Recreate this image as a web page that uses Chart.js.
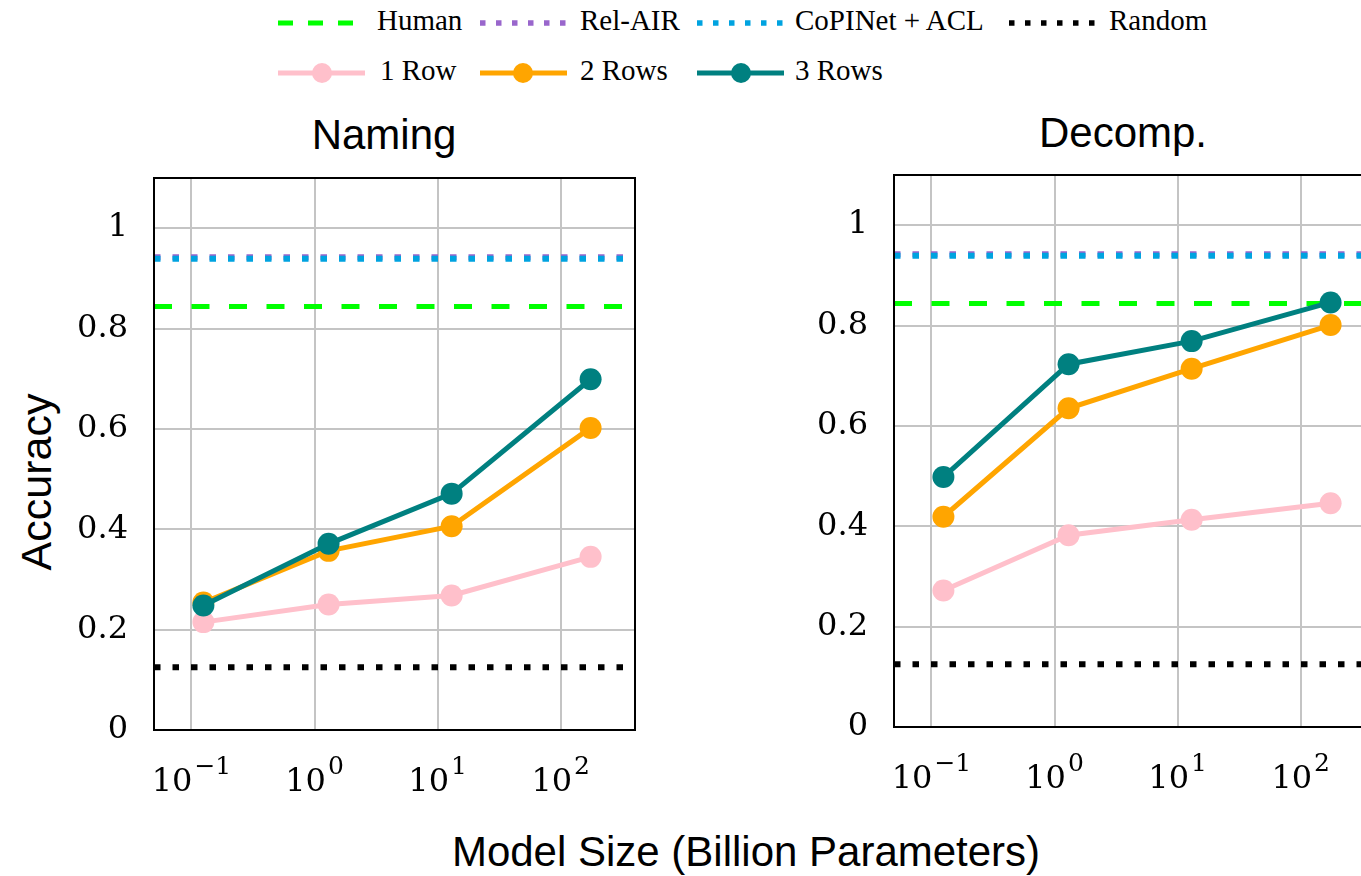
<!DOCTYPE html>
<html>
<head>
<meta charset="utf-8">
<script src="https://cdn.jsdelivr.net/npm/chart.js@4.4.1/dist/chart.umd.min.js"></script>
<style>
  html, body { margin: 0; padding: 0; background: #fff; }
  body { width: 1361px; height: 876px; overflow: hidden; position: relative; }
  canvas { position: absolute; }
  .sample { position: absolute; }
  .lbl { position: absolute; font-family: 'Liberation Serif', 'Times New Roman', serif; font-size: 29px; line-height: 1; color: #000; white-space: nowrap; }
  .ttl { position: absolute; font-family: 'Liberation Sans', Arial, sans-serif; font-size: 42px; line-height: 1; color: #000; white-space: nowrap; transform: translateX(-50%); }
  .ylab { position: absolute; font-family: 'Liberation Sans', Arial, sans-serif; font-size: 43px; line-height: 1; color: #000; white-space: nowrap; transform: translate(-50%, -50%) rotate(-90deg); }
</style>
</head>
<body>

<!-- legend -->
<svg class="sample" style="left:278px;top:8px" width="87" height="30"><line x1="0" y1="15" x2="87" y2="15" stroke="#00ff00" stroke-width="5" stroke-dasharray="15 15"/></svg>
<span class="lbl" style="left:377px;top:6px">Human</span>
<svg class="sample" style="left:480px;top:8px" width="87" height="30"><line x1="0" y1="15" x2="87" y2="15" stroke="#9966cc" stroke-width="5.5" stroke-dasharray="5.5 10.5"/></svg>
<span class="lbl" style="left:580px;top:6px">Rel-AIR</span>
<svg class="sample" style="left:697px;top:8px" width="87" height="30"><line x1="0" y1="15" x2="87" y2="15" stroke="#00a3e0" stroke-width="5.5" stroke-dasharray="5.5 10.5"/></svg>
<span class="lbl" style="left:795px;top:6px">CoPINet + ACL</span>
<svg class="sample" style="left:1009px;top:8px" width="87" height="30"><line x1="0" y1="15" x2="87" y2="15" stroke="#000" stroke-width="5.5" stroke-dasharray="5.5 10.5"/></svg>
<span class="lbl" style="left:1109px;top:6px">Random</span>

<svg class="sample" style="left:278px;top:58px" width="87" height="30"><line x1="0" y1="15" x2="87" y2="15" stroke="#ffc0cb" stroke-width="5"/><circle cx="44" cy="15" r="10" fill="#ffc0cb"/></svg>
<span class="lbl" style="left:380px;top:56px">1 Row</span>
<svg class="sample" style="left:480px;top:58px" width="87" height="30"><line x1="0" y1="15" x2="87" y2="15" stroke="#ffa500" stroke-width="5"/><circle cx="43" cy="15" r="10" fill="#ffa500"/></svg>
<span class="lbl" style="left:580px;top:56px">2 Rows</span>
<svg class="sample" style="left:697px;top:58px" width="87" height="30"><line x1="0" y1="15" x2="87" y2="15" stroke="#008080" stroke-width="5"/><circle cx="44" cy="15" r="10" fill="#008080"/></svg>
<span class="lbl" style="left:795px;top:56px">3 Rows</span>

<div class="ttl" style="left:384px;top:114px">Naming</div>
<div class="ttl" style="left:1123px;top:112px">Decomp.</div>
<div class="ylab" style="left:36px;top:482px">Accuracy</div>
<div class="ttl" style="left:746px;top:831px">Model Size (Billion Parameters)</div>

<canvas id="naming" width="620" height="680" style="left:40px;top:160px"></canvas>
<canvas id="decomp" width="620" height="680" style="left:780px;top:157px"></canvas>

<script>
// model sizes (billion params) on the x axis
const sizes = [0.125, 1.3, 13, 175];

// Naming panel
const naming1Row  = [0.215, 0.250, 0.268, 0.345];
const naming2Rows = [0.254, 0.357, 0.406, 0.602];
const naming3Rows = [0.248, 0.371, 0.471, 0.699];

// Decomp. panel
const decomp1Row  = [0.272, 0.382, 0.413, 0.446];
const decomp2Rows = [0.419, 0.635, 0.714, 0.801];
const decomp3Rows = [0.498, 0.723, 0.769, 0.846];

// reference lines
const humanAcc   = 0.844;
const relAirAcc  = 0.942;
const copinetAcc = 0.939;
const randomAcc  = 0.125;

// axes
const xLimits   = [0.0496, 401.6];
const xTickVals = [0.1, 1, 10, 100];
const xTickExps = ['\u22121', '0', '1', '2'];
const yTickVals = [0, 0.2, 0.4, 0.6, 0.8, 1];
const yMax = 1.1;

const GRID = '#c4c4c4';
const SERIF = '"DejaVu Serif", serif';

const pts = ys => ys.map((y, i) => ({ x: sizes[i], y }));
const hline = y => [{ x: xLimits[0], y }, { x: xLimits[1], y }];

// frame + 10^n tick labels
const framePlugin = {
  id: 'frame',
  afterDraw(chart) {
    const { ctx, chartArea: a, scales: { x } } = chart;
    ctx.save();
    ctx.strokeStyle = '#000';
    ctx.lineWidth = 2;
    ctx.strokeRect(a.left, a.top, a.right - a.left, a.bottom - a.top);
    ctx.fillStyle = '#000';
    ctx.textBaseline = 'alphabetic';
    ctx.textAlign = 'left';
    xTickVals.forEach((v, i) => {
      const px = x.getPixelForValue(v);
      ctx.font = '32px ' + SERIF;
      const w1 = ctx.measureText('10').width;
      ctx.font = '25px ' + SERIF;
      const w2 = ctx.measureText(xTickExps[i]).width;
      const x0 = px - (w1 + 2 + w2) / 2;
      ctx.font = '32px ' + SERIF;
      ctx.fillText('10', x0, a.bottom + 61);
      ctx.font = '25px ' + SERIF;
      ctx.fillText(xTickExps[i], x0 + w1 + 2, a.bottom + 44);
    });
    ctx.restore();
  }
};

function series(label, ys, color, order) {
  return {
    label, data: pts(ys), order,
    borderColor: color, backgroundColor: color,
    borderWidth: 5, pointRadius: 11, pointHoverRadius: 11,
    pointBorderWidth: 0, pointBackgroundColor: color
  };
}

function refLine(label, y, color, dash, width, order) {
  return {
    label, data: hline(y), order,
    borderColor: color, borderWidth: width, borderDash: dash,
    borderCapStyle: 'butt', pointRadius: 0, pointHoverRadius: 0
  };
}

function buildPanel(id, r1, r2, r3) {
  new Chart(document.getElementById(id).getContext('2d'), {
    type: 'line',
    data: {
      datasets: [
        series('3 Rows', r3, '#008080', 0),
        series('2 Rows', r2, '#ffa500', 1),
        series('1 Row', r1, '#ffc0cb', 2),
        refLine('Random', randomAcc, '#000000', [6.5, 12], 6, 3),
        refLine('CoPINet + ACL', copinetAcc, '#00a3e0', [6.5, 12], 6, 4),
        refLine('Rel-AIR', relAirAcc, '#9966cc', [6.5, 12], 6, 5),
        refLine('Human', humanAcc, '#00ff00', [18, 19.5], 5, 6)
      ]
    },
    options: {
      responsive: false,
      animation: false,
      devicePixelRatio: 1,
      layout: { padding: { top: 18, right: 25, left: 0, bottom: 0 } },
      plugins: { legend: { display: false }, tooltip: { enabled: false } },
      scales: {
        x: {
          type: 'logarithmic', min: xLimits[0], max: xLimits[1],
          afterBuildTicks: s => { s.ticks = xTickVals.map(v => ({ value: v })); },
          afterFit: s => { s.height = 110; s.paddingLeft = 0; s.paddingRight = 0; },
          ticks: { display: false },
          grid: { color: GRID, lineWidth: 2, drawTicks: false },
          border: { display: false }
        },
        y: {
          min: 0, max: yMax,
          afterBuildTicks: s => { s.ticks = yTickVals.map(v => ({ value: v })); },
          afterFit: s => { s.width = 114; s.paddingTop = 0; s.paddingBottom = 0; },
          ticks: {
            color: '#000', padding: 26,
            font: { family: 'DejaVu Serif', size: 32 },
            callback: v => (v === 0 ? '0' : v === 1 ? '1' : v.toFixed(1))
          },
          grid: { color: GRID, lineWidth: 2, drawTicks: false },
          border: { display: false }
        }
      }
    },
    plugins: [framePlugin]
  });
}

buildPanel('naming', naming1Row, naming2Rows, naming3Rows);
buildPanel('decomp', decomp1Row, decomp2Rows, decomp3Rows);
</script>
</body>
</html>
